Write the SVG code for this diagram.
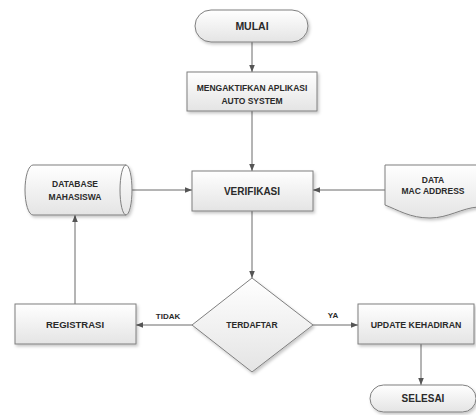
<svg xmlns="http://www.w3.org/2000/svg" width="476" height="415" viewBox="0 0 476 415">
<defs>
<linearGradient id="g" x1="0" y1="0" x2="0" y2="1">
<stop offset="0" stop-color="#ffffff"/>
<stop offset="1" stop-color="#e4e4e4"/>
</linearGradient>
<filter id="sh" x="-10%" y="-10%" width="130%" height="140%">
<feDropShadow dx="1.5" dy="2" stdDeviation="1.5" flood-color="#000" flood-opacity="0.22"/>
</filter>
<marker id="ah" viewBox="0 0 10 10" refX="10" refY="5" markerWidth="7" markerHeight="7" markerUnits="userSpaceOnUse" orient="auto">
<path d="M0,1 L10,5 L0,9 Z" fill="#555"/>
</marker>
<style>
.s{fill:url(#g);stroke:#7f7f7f;stroke-width:1;filter:url(#sh)}
.c{fill:none;stroke:#6a6a6a;stroke-width:1}
text{font-family:"Liberation Sans",Arial,sans-serif;font-weight:bold;fill:#2a2a2a;text-anchor:middle}
.t{font-size:8.5px}
.l{font-size:8px}
</style>
</defs>
<rect width="476" height="415" fill="#ffffff"/>
<g id="connectors">
<line class="c" x1="252" y1="42" x2="252" y2="72" marker-end="url(#ah)"/>
<line class="c" x1="252" y1="111" x2="252" y2="171" marker-end="url(#ah)"/>
<line class="c" x1="252" y1="211" x2="252" y2="278" marker-end="url(#ah)"/>
<line class="c" x1="126" y1="190" x2="192" y2="190" marker-end="url(#ah)"/>
<line class="c" x1="385" y1="190" x2="313" y2="190" marker-end="url(#ah)"/>
<line class="c" x1="192" y1="325" x2="136" y2="325" marker-end="url(#ah)"/>
<line class="c" x1="313" y1="325" x2="358" y2="325" marker-end="url(#ah)"/>
<line class="c" x1="75" y1="304" x2="75" y2="215" marker-end="url(#ah)"/>
<line class="c" x1="421" y1="344" x2="421" y2="385" marker-end="url(#ah)"/>
<text class="l" x="168" y="319">TIDAK</text>
<text class="l" x="333" y="318">YA</text>
</g>
<g id="mulai">
<rect class="s" x="195" y="10" width="113" height="32" rx="16"/>
<text x="252" y="30" style="font-size:10.5px">MULAI</text>
</g>
<g id="aktifkan">
<rect class="s" x="187" y="72" width="130" height="39"/>
<text class="t" x="252" y="91">MENGAKTIFKAN APLIKASI</text>
<text class="t" x="252" y="104">AUTO SYSTEM</text>
</g>
<g id="verifikasi">
<rect class="s" x="192" y="171" width="121" height="40"/>
<text x="252" y="195" style="font-size:10px">VERIFIKASI</text>
</g>
<g id="database">
<path class="s" d="M33,165 L126,165 A6,25 0 0 1 126,215 L33,215 A8,25 0 0 1 33,165 Z"/>
<path class="c" d="M126,165 A6,25 0 0 0 126,215" style="stroke:#7f7f7f"/>
<text class="t" x="75" y="187">DATABASE</text>
<text class="t" x="75" y="200">MAHASISWA</text>
</g>
<g id="mac">
<path class="s" d="M385,165 L478,165 L478,207 C462,208 448,218 430,218 C410,218 398,210 385,205 Z"/>
<text class="t" x="433" y="183">DATA</text>
<text class="t" x="433" y="194">MAC ADDRESS</text>
</g>
<g id="terdaftar">
<polygon class="s" points="252,278 313,325 252,372 192,325"/>
<text class="t" x="252" y="328">TERDAFTAR</text>
</g>
<g id="registrasi">
<rect class="s" x="15" y="304" width="121" height="40"/>
<text x="75" y="328" style="font-size:9.5px">REGISTRASI</text>
</g>
<g id="update">
<rect class="s" x="358" y="304" width="116" height="40"/>
<text x="416" y="328" style="font-size:8.8px">UPDATE KEHADIRAN</text>
</g>
<g id="selesai">
<rect class="s" x="370" y="385" width="106" height="27" rx="13.5"/>
<text x="423" y="402" style="font-size:10px">SELESAI</text>
</g>
</svg>
